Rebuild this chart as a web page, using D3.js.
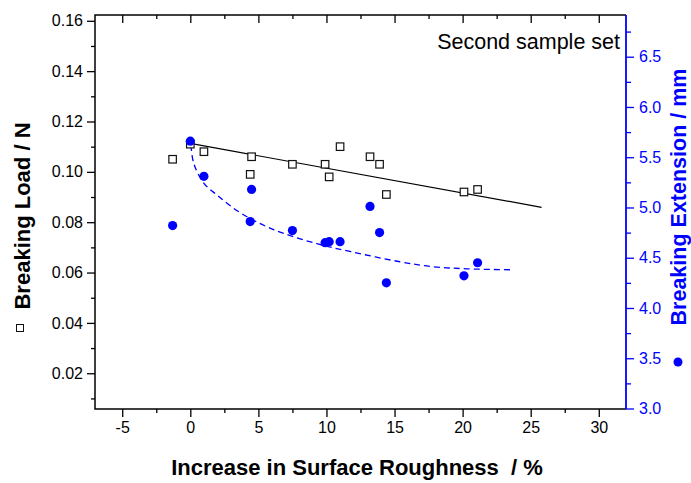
<!DOCTYPE html>
<html>
<head>
<meta charset="utf-8">
<script src="https://cdn.jsdelivr.net/npm/d3@7"></script>
<style>
  html, body { margin: 0; padding: 0; background: #fff; }
  svg { display: block; font-family: "Liberation Sans", Arial, sans-serif; }
  .pre { white-space: pre; }
</style>
</head>
<body>
<svg id="chart" width="691" height="483"></svg>
<script>
// Surface roughness increase (%) for each sample
const roughness = [-1.3, 0.0, 1.0, 4.5, 4.4, 7.5, 9.9, 10.2, 11.0, 13.2, 13.9, 14.4, 20.1, 21.1];
// Breaking load (N), left axis
const breakingLoad = [0.105, 0.111, 0.108, 0.106, 0.099, 0.103, 0.103, 0.098, 0.110, 0.106, 0.103, 0.091, 0.092, 0.093];
// Breaking extension (mm), right axis
const breakingExt = [4.82, 5.66, 5.31, 5.18, 4.86, 4.77, 4.65, 4.66, 4.66, 5.01, 4.75, 4.25, 4.32, 4.45];

// Linear trend of breaking load
const loadFitX = [0, 25.8];
const loadFitY = [0.1113, 0.0859];
// Decay trend of breaking extension
const extFitX = [0.05, 0.25, 1.0, 2.0, 3.2, 4.4, 5.6, 6.9, 9.3, 11.8, 15.4, 17.9, 20.3, 23.6];
const extFitY = [5.62, 5.44, 5.24, 5.12, 4.99, 4.89, 4.81, 4.74, 4.64, 4.56, 4.46, 4.41, 4.39, 4.38];

// Tick values
const xMajor = [-5, 0, 5, 10, 15, 20, 25, 30];
const xMinor = [-2.5, 2.5, 7.5, 12.5, 17.5, 22.5, 27.5];
const loadMajor = [0.02, 0.04, 0.06, 0.08, 0.10, 0.12, 0.14, 0.16];
const loadMinor = [0.01, 0.03, 0.05, 0.07, 0.09, 0.11, 0.13, 0.15];
const extMajor = [3.0, 3.5, 4.0, 4.5, 5.0, 5.5, 6.0, 6.5];
const extMinor = [3.25, 3.75, 4.25, 4.75, 5.25, 5.75, 6.25, 6.75];

const BLUE = "#0000ff";
const svg = d3.select("#chart");
const L = 95, R = 626, T = 15, B = 409;

const x = d3.scaleLinear().domain([-7, 32]).range([L, R]);
const yLoad = d3.scaleLinear().domain([0.0058, 0.1623]).range([B, T]);
const yExt = d3.scaleLinear().domain([2.995, 6.915]).range([B, T]);

function styleAxis(g, color) {
  g.select(".domain").remove();
  g.selectAll("line").attr("stroke", color).attr("stroke-width", 1.3);
  g.selectAll("text").attr("fill", color).attr("font-size", 16);
}

// Bottom axis (plain hyphen for negative labels)
svg.append("g").attr("transform", `translate(0,${B})`)
  .call(d3.axisBottom(x).tickValues(xMajor).tickSize(8).tickPadding(5).tickFormat(d => String(d)))
  .call(g => styleAxis(g, "#000"));
svg.append("g").attr("transform", `translate(0,${B})`)
  .call(d3.axisBottom(x).tickValues(xMinor).tickSize(4).tickFormat(""))
  .call(g => styleAxis(g, "#000"));
// Top mirror ticks (inward)
svg.append("g").attr("transform", `translate(0,${T})`)
  .call(d3.axisTop(x).tickValues(xMajor).tickSize(-8).tickFormat(""))
  .call(g => styleAxis(g, "#000"));
svg.append("g").attr("transform", `translate(0,${T})`)
  .call(d3.axisTop(x).tickValues(xMinor).tickSize(-4).tickFormat(""))
  .call(g => styleAxis(g, "#000"));

// Left axis
svg.append("g").attr("transform", `translate(${L},0)`)
  .call(d3.axisLeft(yLoad).tickValues(loadMajor).tickSize(8).tickPadding(4).tickFormat(d3.format(".2f")))
  .call(g => styleAxis(g, "#000"));
svg.append("g").attr("transform", `translate(${L},0)`)
  .call(d3.axisLeft(yLoad).tickValues(loadMinor).tickSize(4).tickFormat(""))
  .call(g => styleAxis(g, "#000"));

// Right axis
svg.append("g").attr("transform", `translate(${R},0)`)
  .call(d3.axisRight(yExt).tickValues(extMajor).tickSize(8).tickPadding(5).tickFormat(d3.format(".1f")))
  .call(g => styleAxis(g, BLUE));
svg.append("g").attr("transform", `translate(${R},0)`)
  .call(d3.axisRight(yExt).tickValues(extMinor).tickSize(5).tickFormat(""))
  .call(g => styleAxis(g, BLUE));

// Frame
svg.append("path")
  .attr("d", `M${R},${T}H${L}V${B}H${R}`)
  .attr("fill", "none").attr("stroke", "#000").attr("stroke-width", 1.5);
svg.append("line")
  .attr("x1", R).attr("x2", R).attr("y1", T).attr("y2", B)
  .attr("stroke", BLUE).attr("stroke-width", 1.8);

// Trend lines
const loadFit = loadFitX.map((v, i) => [v, loadFitY[i]]);
svg.append("path")
  .attr("d", d3.line().x(d => x(d[0])).y(d => yLoad(d[1]))(loadFit))
  .attr("fill", "none").attr("stroke", "#000").attr("stroke-width", 1.2);

const extFit = extFitX.map((v, i) => [v, extFitY[i]]);
svg.append("path")
  .attr("d", d3.line().curve(d3.curveCatmullRom).x(d => x(d[0])).y(d => yExt(d[1]))(extFit))
  .attr("fill", "none").attr("stroke", BLUE).attr("stroke-width", 1.3)
  .attr("stroke-dasharray", "6,4");

// Breaking load markers (open squares)
const S = 7.5;
svg.append("g").selectAll("rect").data(roughness.map((r, i) => [r, breakingLoad[i]]))
  .join("rect")
  .attr("x", d => x(d[0]) - S / 2).attr("y", d => yLoad(d[1]) - S / 2)
  .attr("width", S).attr("height", S)
  .attr("fill", "#fff").attr("stroke", "#111").attr("stroke-width", 1.2);

// Breaking extension markers (filled circles)
svg.append("g").selectAll("circle").data(roughness.map((r, i) => [r, breakingExt[i]]))
  .join("circle")
  .attr("cx", d => x(d[0])).attr("cy", d => yExt(d[1]))
  .attr("r", 4.6).attr("fill", BLUE);

// Annotation
svg.append("text").attr("x", 620).attr("y", 49).attr("text-anchor", "end")
  .attr("font-size", 21.5).attr("fill", "#000").text("Second sample set");

// Axis titles
svg.append("text").attr("class", "pre")
  .attr("transform", `translate(357,475)`)
  .attr("text-anchor", "middle").attr("font-size", 22).attr("font-weight", "bold")
  .text("Increase in Surface Roughness  / %");

svg.append("text")
  .attr("transform", `translate(29.5,216) rotate(-90)`)
  .attr("text-anchor", "middle").attr("font-size", 22).attr("font-weight", "bold")
  .text("Breaking Load / N");
svg.append("rect").attr("x", 20 - 3.5).attr("y", 328 - 3.5).attr("width", 7).attr("height", 7)
  .attr("fill", "#fff").attr("stroke", "#111").attr("stroke-width", 1);

svg.append("text")
  .attr("transform", `translate(686,197) rotate(-90)`)
  .attr("text-anchor", "middle").attr("font-size", 21.5).attr("font-weight", "bold")
  .attr("fill", BLUE)
  .text("Breaking Extension / mm");
svg.append("circle").attr("cx", 678).attr("cy", 362).attr("r", 4.5).attr("fill", BLUE);
</script>
</body>
</html>
